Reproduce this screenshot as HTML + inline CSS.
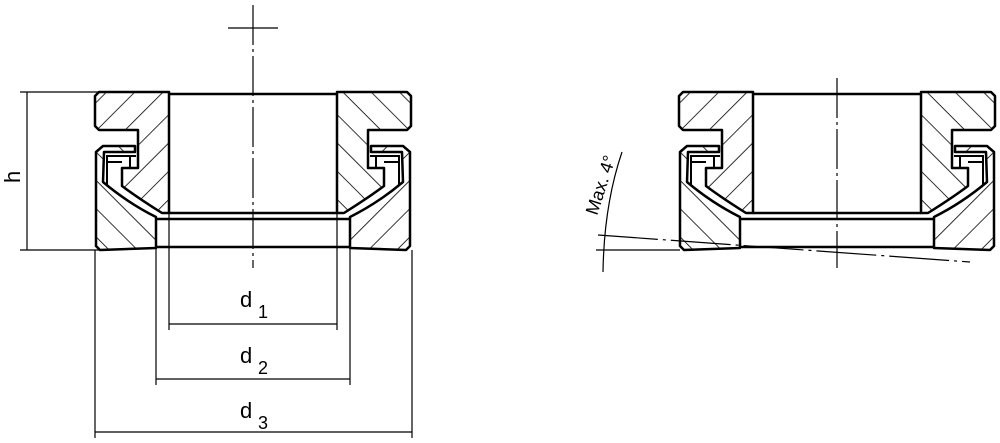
<!DOCTYPE html>
<html><head><style>html,body{margin:0;background:#fff}svg{display:block}</style></head><body>
<svg width="1000" height="443" viewBox="0 0 1000 443" xmlns="http://www.w3.org/2000/svg" font-family="Liberation Sans, sans-serif">
<defs>
<pattern id="hA" width="20" height="20" patternUnits="userSpaceOnUse" patternTransform="rotate(45)"><line x1="0" y1="0" x2="0" y2="20" stroke="#000" stroke-width="1.6"/></pattern>
<pattern id="hB" width="20" height="20" patternUnits="userSpaceOnUse" patternTransform="rotate(-45)"><line x1="0" y1="0" x2="0" y2="20" stroke="#000" stroke-width="1.6"/></pattern>
<g id="half">
 <path d="M99,92 L169,92 L169,213 L162,213 Q138,198 122,186 L122,168 L138,168 L138,130 L99,130 L95,126 L95,96 Z" fill="url(#hA)" stroke="#000" stroke-width="2.5" stroke-linejoin="round"/>
 <path d="M96,152 L103,146 L135,146 L135,152 L104,152 L103,182 Q128,203 156,217 L156,248 L100,250 L96,246 Z" fill="url(#hB)" stroke="#000" stroke-width="2.5" stroke-linejoin="round"/>
 <path d="M107,186 L107,156 L136,156 M130,156 L130,168 M107,162 L122,162" fill="none" stroke="#000" stroke-width="2"/>
</g>
<g id="part">
 <use href="#half"/>
 <use href="#half" transform="translate(506,0) scale(-1,1)"/>
 <line x1="169" y1="94" x2="337" y2="94" stroke="#000" stroke-width="2.5"/>
 <line x1="169" y1="213" x2="337" y2="213" stroke="#000" stroke-width="2.5"/>
 <line x1="156" y1="219" x2="350" y2="219" stroke="#000" stroke-width="2.5"/>
 <line x1="156" y1="247" x2="350" y2="247" stroke="#000" stroke-width="2.5"/>
</g>
</defs>
<use href="#part"/>
<use href="#part" transform="translate(584,0)"/>
<g stroke="#000" stroke-width="1.2" fill="none">
 <line x1="253" y1="5" x2="253" y2="268" stroke-dasharray="40,4,3,4"/>
 <line x1="228" y1="28" x2="278" y2="28"/>
 <line x1="837" y1="78" x2="837" y2="268" stroke-dasharray="40,4,3,4"/>
 <line x1="20" y1="92" x2="99" y2="92"/><line x1="20" y1="250" x2="99" y2="250"/>
 <line x1="27" y1="92" x2="27" y2="250"/>
 <line x1="169" y1="213" x2="169" y2="330"/><line x1="337" y1="213" x2="337" y2="330"/>
 <line x1="156" y1="248" x2="156" y2="385"/><line x1="350" y1="248" x2="350" y2="385"/>
 <line x1="95" y1="250" x2="95" y2="438"/><line x1="412" y1="250" x2="412" y2="438"/>
 <line x1="169" y1="324" x2="337" y2="324"/>
 <line x1="156" y1="379" x2="350" y2="379"/>
 <line x1="95" y1="432" x2="412" y2="432"/>
 <line x1="598" y1="235" x2="970" y2="262" stroke-dasharray="60,5,3,5"/>
 <line x1="596" y1="250" x2="680" y2="250"/>
 <path d="M622,152 Q604,205 603,272"/>
</g>
<g font-size="22" fill="#000">
 <text x="240" y="307">d</text><text x="258" y="318" font-size="18">1</text>
 <text x="240" y="363">d</text><text x="258" y="374" font-size="18">2</text>
 <text x="240" y="418">d</text><text x="258" y="429" font-size="18">3</text>
 <text transform="translate(20,183) rotate(-90)">h</text>
 <text font-size="18" transform="translate(597,216) rotate(-72)">Max. 4°</text>
</g>
</svg>
</body></html>
